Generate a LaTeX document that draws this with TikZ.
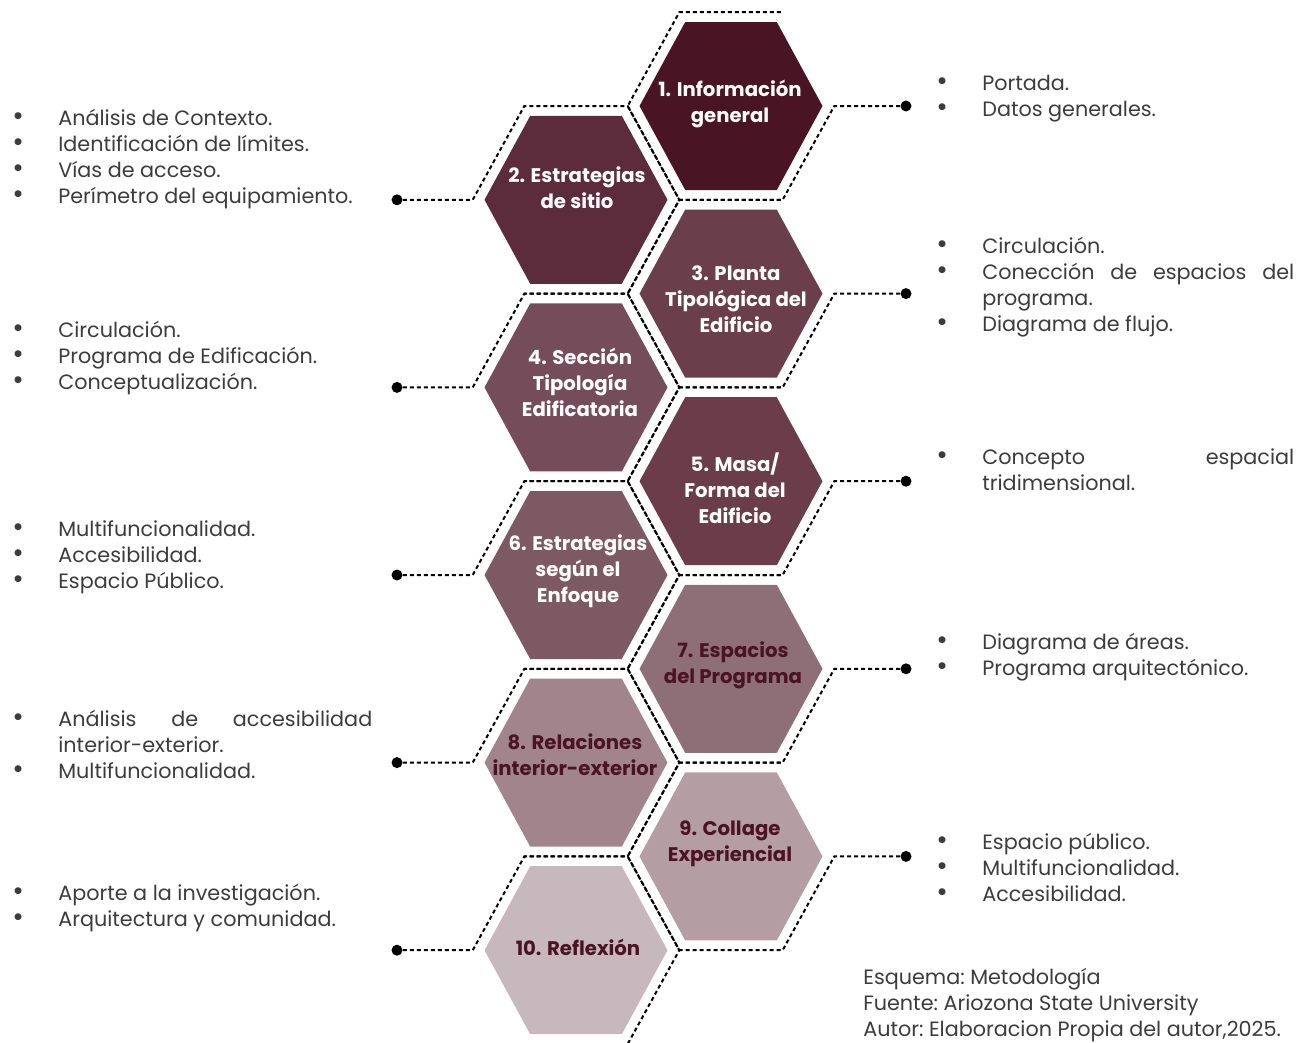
\documentclass[tikz,border=0pt]{standalone}
\usepackage{fontspec}
\setmainfont{Poppins}
\usetikzlibrary{calc}

\definecolor{hexA}{HTML}{491424}
\definecolor{hexB}{HTML}{5C2C3D}
\definecolor{hexC}{HTML}{6B3E4B}
\definecolor{hexD}{HTML}{744C5A}
\definecolor{hexE}{HTML}{6B3D4B}
\definecolor{hexF}{HTML}{7D5963}
\definecolor{hexG}{HTML}{8E6E77}
\definecolor{hexH}{HTML}{A2858C}
\definecolor{hexI}{HTML}{B59EA3}
\definecolor{hexJ}{HTML}{C7B8BD}
\definecolor{listgray}{HTML}{3C3C3C}

\tikzset{
  comb/.style={draw=black, line width=0.04cm, dash pattern=on 0.08cm off 0.06cm},
  combdot/.style={circle, fill=black, inner sep=0pt, minimum size=0.22cm},
  hexlabel/.style={font=\bfseries\fontsize{11.2}{14.8}\selectfont, align=center, text=white, inner sep=0pt},
  hexlabeldark/.style={hexlabel, text=hexA},
  bullets/.style={align=justify, inner sep=0pt, anchor=west, text=listgray, font=\frenchspacing\fontsize{11.8}{14.8}\selectfont},
}

% filled hexagon around a centre
\newcommand{\hexfill}[2]{\fill[#2] (#1) +(-91.5,0) -- +(-45.8,-84) -- +(45.8,-84) -- +(91.5,0) -- +(45.8,84) -- +(-45.8,84) -- cycle;}
% dotted outline, left column: from the dot round the hexagon
\newcommand{\combleft}[2]{\draw[comb] (#2) -- ($(#1)+(-103.3,0)$) -- ++(51.65,-93.8) -- ++(103.3,0) -- ++(51.65,93.8) -- ++(-51.65,93.8) -- ++(-103.3,0);}
% dotted outline, right column
\newcommand{\combright}[2]{\draw[comb] (#2) -- ($(#1)+(103.3,0)$) -- ++(-51.65,93.8) -- ++(-103.3,0) -- ++(-51.65,-93.8) -- ++(51.65,-93.8) -- ++(103.3,0);}
\newcommand{\bitem}[1]{\par\noindent\hangindent=0.9cm\hangafter=1\makebox[0.9cm][l]{\hspace{-0.02cm}\scalebox{1.35}{\textbullet}}#1}

\begin{document}
\begin{tikzpicture}[x=0.02cm, y=-0.02cm]
  \useasboundingbox (0,0) rectangle (1304,1042);

  % hexagon centres
  \coordinate (c1) at (731,106);
  \coordinate (c2) at (576,199.8);
  \coordinate (c3) at (731,293.6);
  \coordinate (c4) at (576,387.4);
  \coordinate (c5) at (731,481.2);
  \coordinate (c6) at (576,575);
  \coordinate (c7) at (731,668.8);
  \coordinate (c8) at (576,762.6);
  \coordinate (c9) at (731,856.4);
  \coordinate (c10) at (576,950.2);

  \hexfill{c1}{hexA}
  \hexfill{c2}{hexB}
  \hexfill{c3}{hexC}
  \hexfill{c4}{hexD}
  \hexfill{c5}{hexE}
  \hexfill{c6}{hexF}
  \hexfill{c7}{hexG}
  \hexfill{c8}{hexH}
  \hexfill{c9}{hexI}
  \hexfill{c10}{hexJ}

  \node[hexlabel] (h1) at (730,104) {1. Información\\general};
  \node[hexlabel] (h2) at (577,188) {2. Estrategias\\de sitio};
  \node[hexlabel] (h3) at (736,299) {3. Planta\\Tipológica del\\Edificio};
  \node[hexlabel] (h4) at (580,382) {4. Sección\\Tipología\\Edificatoria};
  \node[hexlabel] (h5) at (735,488) {5. Masa/\\Forma del\\Edificio};
  \node[hexlabel] (h6) at (578,571) {6. Estrategias\\según el\\Enfoque};
  \node[hexlabeldark] (h7) at (733,665) {7. Espacios\\del Programa};
  \node[hexlabeldark] (h8) at (575,755) {8. Relaciones\\interior-exterior};
  \node[hexlabeldark] (h9) at (730,844) {9. Collage\\Experiencial};
  \node[hexlabeldark] (h10) at (578,947) {10. Reflexión};

  % dots at the ends of the dotted lines
  \node[combdot] (d1) at (906,106) {};
  \node[combdot] (d2) at (397,199.8) {};
  \node[combdot] (d3) at (906,293.6) {};
  \node[combdot] (d4) at (397,387.4) {};
  \node[combdot] (d5) at (906,481.2) {};
  \node[combdot] (d6) at (397,575) {};
  \node[combdot] (d7) at (906,668.8) {};
  \node[combdot] (d8) at (397,762.6) {};
  \node[combdot] (d9) at (906,856.4) {};
  \node[combdot] (d10) at (397,950.2) {};

  \combright{c1}{d1}
  \combleft{c2}{d2}
  \combright{c3}{d3}
  \combleft{c4}{d4}
  \combright{c5}{d5}
  \combleft{c6}{d6}
  \combright{c7}{d7}
  \combleft{c8}{d8}
  \combright{c9}{d9}
  \combleft{c10}{d10}

  % left lists
  \node[bullets, text width=7.18cm] (l2) at (13,154) {\bitem{Análisis de Contexto.}\bitem{Identificación de límites.}\bitem{Vías de acceso.}\bitem{Perímetro del equipamiento.}\par};
  \node[bullets, text width=7.18cm] (l4) at (13,353) {\bitem{Circulación.}\bitem{Programa de Edificación.}\bitem{Conceptualización.}\par};
  \node[bullets, text width=7.18cm] (l6) at (13,552) {\bitem{Multifuncionalidad.}\bitem{Accesibilidad.}\bitem{Espacio Público.}\par};
  \node[bullets, text width=7.18cm] (l8) at (13,740) {\bitem{Análisis de accesibilidad\linebreak interior-exterior.}\bitem{Multifuncionalidad.}\par};
  \node[bullets, text width=7.18cm] (l10) at (13,903) {\bitem{Aporte a la investigación.}\bitem{Arquitectura y comunidad.}\par};

  % right lists
  \node[bullets, text width=7.14cm] (r1) at (937,93) {\bitem{Portada.}\bitem{Datos generales.}\par};
  \node[bullets, text width=7.14cm] (r3) at (937,282) {\bitem{Circulación.}\bitem{Conección de espacios del\linebreak programa.}\bitem{Diagrama de flujo.}\par};
  \node[bullets, text width=7.14cm] (r5) at (937,465) {\bitem{Concepto espacial\linebreak tridimensional.}\par};
  \node[bullets, text width=7.14cm] (r7) at (937,652) {\bitem{Diagrama de áreas.}\bitem{Programa arquitectónico.}\par};
  \node[bullets, text width=7.14cm] (r9) at (937,863) {\bitem{Espacio público.}\bitem{Multifuncionalidad.}\bitem{Accesibilidad.}\par};

  \node[bullets, align=left] (src) at (863,1005) {Esquema: Metodología\\Fuente: Ariozona State University\\Autor: Elaboracion Propia del autor,2025.};
\end{tikzpicture}
\end{document}
